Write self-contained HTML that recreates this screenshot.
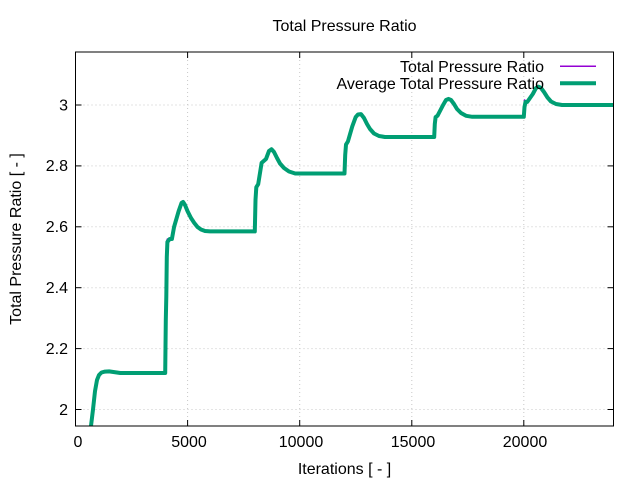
<!DOCTYPE html>
<html><head><meta charset="utf-8"><style>
body{margin:0;background:#fff;}
svg{display:block;font-family:"Liberation Sans",Arial,sans-serif;}
</style></head><body>
<svg width="640" height="480" viewBox="0 0 640 480">
<defs><clipPath id="c"><rect x="75.5" y="52" width="538" height="374"/></clipPath></defs>
<g stroke="#c8c8c8" stroke-width="1" stroke-dasharray="1,3">
<line x1="187.6" y1="52" x2="187.6" y2="426"/>
<line x1="299.7" y1="52" x2="299.7" y2="426"/>
<line x1="411.8" y1="52" x2="411.8" y2="426"/>
<line x1="523.8" y1="52" x2="523.8" y2="426"/>
<line x1="75.5" y1="409.5" x2="613.5" y2="409.5"/>
<line x1="75.5" y1="348.6" x2="613.5" y2="348.6"/>
<line x1="75.5" y1="287.7" x2="613.5" y2="287.7"/>
<line x1="75.5" y1="226.8" x2="613.5" y2="226.8"/>
<line x1="75.5" y1="165.9" x2="613.5" y2="165.9"/>
<line x1="75.5" y1="105" x2="613.5" y2="105"/>
</g>
<g stroke="#000" stroke-width="1">
<line x1="187.6" y1="426" x2="187.6" y2="420"/><line x1="187.6" y1="52" x2="187.6" y2="58"/>
<line x1="299.7" y1="426" x2="299.7" y2="420"/><line x1="299.7" y1="52" x2="299.7" y2="58"/>
<line x1="411.8" y1="426" x2="411.8" y2="420"/><line x1="411.8" y1="52" x2="411.8" y2="58"/>
<line x1="523.8" y1="426" x2="523.8" y2="420"/><line x1="523.8" y1="52" x2="523.8" y2="58"/>
<line x1="75.5" y1="409.5" x2="81.5" y2="409.5"/><line x1="613.5" y1="409.5" x2="607.5" y2="409.5"/>
<line x1="75.5" y1="348.6" x2="81.5" y2="348.6"/><line x1="613.5" y1="348.6" x2="607.5" y2="348.6"/>
<line x1="75.5" y1="287.7" x2="81.5" y2="287.7"/><line x1="613.5" y1="287.7" x2="607.5" y2="287.7"/>
<line x1="75.5" y1="226.8" x2="81.5" y2="226.8"/><line x1="613.5" y1="226.8" x2="607.5" y2="226.8"/>
<line x1="75.5" y1="165.9" x2="81.5" y2="165.9"/><line x1="613.5" y1="165.9" x2="607.5" y2="165.9"/>
<line x1="75.5" y1="105" x2="81.5" y2="105"/><line x1="613.5" y1="105" x2="607.5" y2="105"/>
</g>
<g clip-path="url(#c)" fill="none" stroke-linejoin="round">
<path stroke="#9400d3" stroke-width="1.5" d="M90.5,430 L93,409.5 L95,391.2 L97,380 L99,375 L101.5,372.5 L105,371.6 L109.1,371.4 L120.3,373 L165.2,373 L165.8,296.8 L166.3,242 L167.4,239 L169.7,239 L171.9,239 L174.1,226.8 L178.6,211.3 L181.5,203 L183.1,202 L185,205 L187.6,211.3 L191,218 L194.3,223 L197.5,227 L201,229.5 L205,231 L210,231.4 L254.8,231.4 L255.5,187.2 L258.2,184.2 L261.6,162.9 L266,159 L269,151 L271.5,149.2 L274,152 L277,158 L280,163.5 L284,168 L289,171.5 L295.2,173.5 L344.5,173.5 L345.2,144.6 L347.9,141.5 L352.3,126.3 L355.7,117.1 L358,114.5 L361,114.1 L364,118 L367,124 L370,129 L374,133.5 L379,136 L384.9,137 L434.2,137 L434.8,117.1 L437.6,115.6 L443.1,105 L446,100 L448.5,98.9 L451,100 L454,104 L457,109 L461,113 L466,115.8 L472.3,116.8 L523.8,116.8 L524.5,100 L527.2,102 L532.8,94 L536,88 L538.5,86.7 L541,88 L544,92 L547.5,97.5 L551,101.5 L556,104 L562,105 L613.5,105"/>
<path stroke="#009e73" stroke-width="4" d="M90.5,430 L93,409.5 L95,391.2 L97,380 L99,375 L101.5,372.5 L105,371.6 L109.1,371.4 L120.3,373 L165.2,373 L165.8,320 L166.3,296.8 L166.8,257 L167.4,242 L169.7,239 L171.9,239 L174.1,226.8 L178.6,211.3 L181.5,203 L183.1,202 L185,205 L187.6,211.3 L191,218 L194.3,223 L197.5,227 L201,229.5 L205,231 L210,231.4 L254.8,231.4 L255.5,200 L256.3,187.2 L258.2,184.2 L261.6,162.9 L266,159 L269,151 L271.5,149.2 L274,152 L277,158 L280,163.5 L284,168 L289,171.5 L295.2,173.5 L344.5,173.5 L345.2,155 L346,144.6 L347.9,141.5 L352.3,126.3 L355.7,117.1 L358,114.5 L361,114.1 L364,118 L367,124 L370,129 L374,133.5 L379,136 L384.9,137 L434.2,137 L434.8,124 L435.6,117.1 L437.6,115.6 L443.1,105 L446,100 L448.5,98.9 L451,100 L454,104 L457,109 L461,113 L466,115.8 L472.3,116.8 L523.8,116.8 L524.5,107 L525.5,102 L527.2,102 L532.8,94 L536,88 L538.5,86.7 L541,88 L544,92 L547.5,97.5 L551,101.5 L556,104 L562,105 L613.5,105"/>
</g>
<rect x="75.5" y="52" width="538" height="374" fill="none" stroke="#000" stroke-width="1"/>
<line x1="560" y1="66.3" x2="596" y2="66.3" stroke="#9400d3" stroke-width="1.5"/>
<line x1="560" y1="83.3" x2="596" y2="83.3" stroke="#009e73" stroke-width="4"/>
<g font-size="16" fill="#000">
<text x="544" y="72" text-anchor="end">Total Pressure Ratio</text>
<text x="544" y="89" text-anchor="end">Average Total Pressure Ratio</text>
<text x="344.5" y="31" text-anchor="middle">Total Pressure Ratio</text>
<text x="344.5" y="474" text-anchor="middle">Iterations [ - ]</text>
<text transform="translate(21,239) rotate(-90)" text-anchor="middle">Total Pressure Ratio [ - ]</text>
<g text-anchor="middle">
<text x="78" y="447">0</text>
<text x="189" y="447">5000</text>
<text x="301" y="447">10000</text>
<text x="413" y="447">15000</text>
<text x="525" y="447">20000</text>
</g>
<g text-anchor="end">
<text x="68" y="415">2</text>
<text x="68" y="354">2.2</text>
<text x="68" y="293">2.4</text>
<text x="68" y="232">2.6</text>
<text x="68" y="171">2.8</text>
<text x="68" y="110.5">3</text>
</g>
</g>
</svg>
</body></html>
